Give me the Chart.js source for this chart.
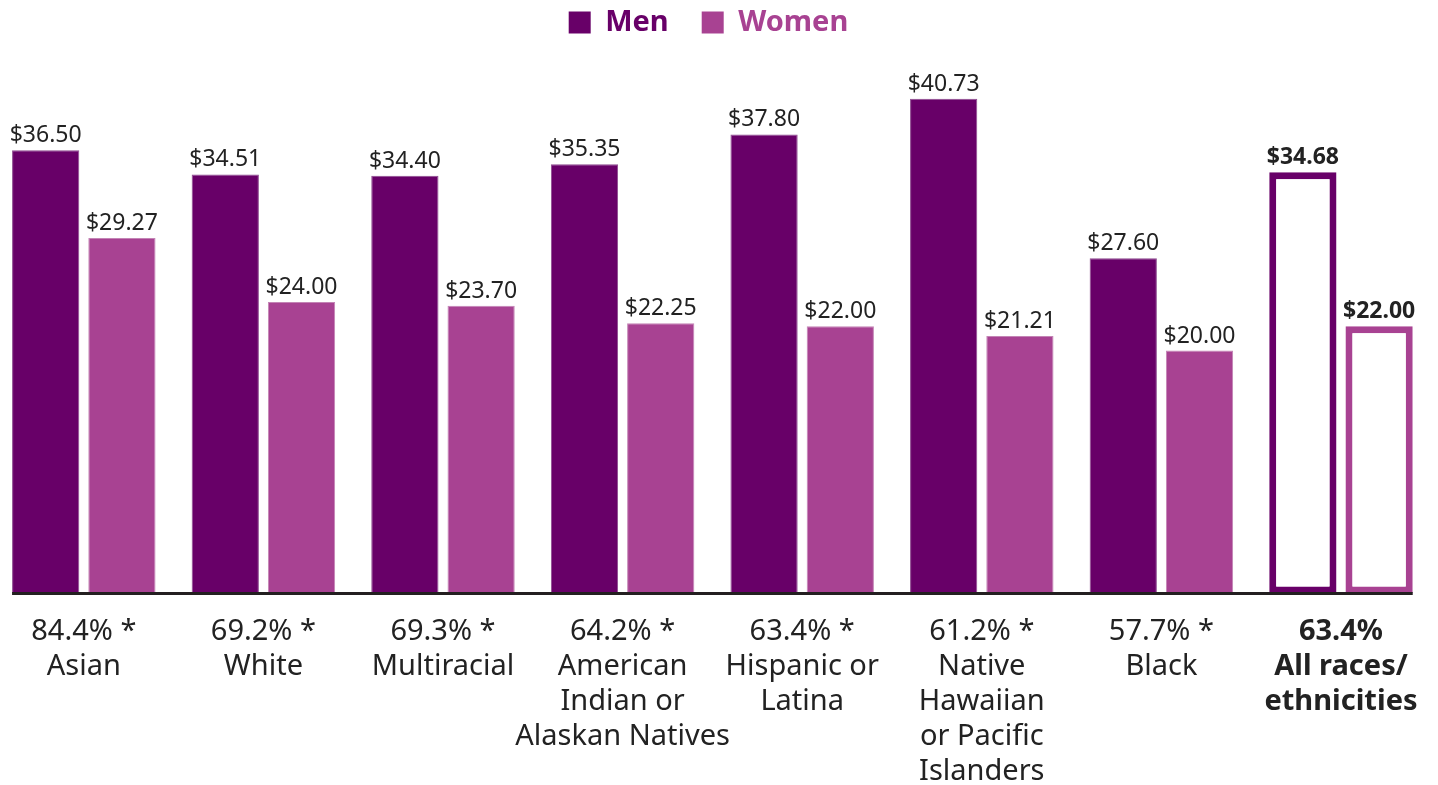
<!DOCTYPE html>
<html>
<head>
<meta charset="utf-8">
<script src="https://cdn.jsdelivr.net/npm/chart.js@4/dist/chart.umd.min.js"></script>
<style>
  body { margin: 0; background: #fff; overflow: hidden; }
  #wrap { width: 1444px; height: 785px; position: relative; left: -6px; }
</style>
</head>
<body>
<div id="wrap"><canvas id="chart"></canvas></div>
<script>
// data
const groups = ['Asian', 'White', 'Multiracial', 'American Indian or Alaskan Natives',
  'Hispanic or Latina', 'Native Hawaiian or Pacific Islanders', 'Black', 'All races/ethnicities'];
const ratioLabels = ['84.4% *', '69.2% *', '69.3% *', '64.2% *', '63.4% *', '61.2% *', '57.7% *', '63.4%'];
const nameLines = [
  ['Asian'],
  ['White'],
  ['Multiracial'],
  ['American', 'Indian or', 'Alaskan Natives'],
  ['Hispanic or', 'Latina'],
  ['Native', 'Hawaiian', 'or Pacific', 'Islanders'],
  ['Black'],
  ['All races/', 'ethnicities']
];
const menWage = [36.50, 34.51, 34.40, 35.35, 37.80, 40.73, 27.60, 34.68];
const womenWage = [29.27, 24.00, 23.70, 22.25, 22.00, 21.21, 20.00, 22.00];

const MEN = '#680068';
const WOMEN = '#a84292';
const TEXT = '#222222';
const last = groups.length - 1;

Chart.defaults.font.family = '"Noto Sans", sans-serif';

const tickLabels = groups.map((g, i) => [ratioLabels[i]].concat(nameLines[i]));

function fills(color) {
  return menWage.map((v, i) => i === last ? '#ffffff' : color);
}
function borders(color, edge) {
  return menWage.map((v, i) => i === last ? color : edge);
}
function widths() {
  return menWage.map((v, i) => i === last ? 7 : 1);
}

// dollar labels above each bar
const valueLabels = {
  id: 'valueLabels',
  afterDatasetsDraw(chart) {
    const ctx = chart.ctx;
    ctx.save();
    ctx.textAlign = 'center';
    ctx.textBaseline = 'alphabetic';
    ctx.fillStyle = TEXT;
    chart.data.datasets.forEach((ds, di) => {
      chart.getDatasetMeta(di).data.forEach((bar, i) => {
        ctx.font = (i === last ? 'bold ' : '') + '23px "Noto Sans"';
        ctx.fillText('$' + ds.data[i].toFixed(2), bar.x, bar.y - 8);
      });
    });
    ctx.restore();
  }
};

// baseline only under the bars
const baseLine = {
  id: 'baseLine',
  afterDatasetsDraw(chart) {
    const m0 = chart.getDatasetMeta(0).data;
    const m1 = chart.getDatasetMeta(1).data;
    const first = m0[0], end = m1[m1.length - 1];
    const y = chart.scales.y.getPixelForValue(0);
    const ctx = chart.ctx;
    ctx.save();
    ctx.strokeStyle = '#231f20';
    ctx.lineWidth = 3;
    ctx.beginPath();
    ctx.moveTo(first.x - first.width / 2, y);
    ctx.lineTo(end.x + end.width / 2, y);
    ctx.stroke();
    ctx.restore();
  }
};

new Chart(document.getElementById('chart'), {
  type: 'bar',
  data: {
    labels: tickLabels,
    datasets: [
      {
        label: 'Men',
        data: menWage,
        backgroundColor: fills(MEN),
        borderColor: borders(MEN, '#8d4a8f'),
        borderWidth: widths(),
        borderSkipped: (c) => c.dataIndex === last ? false : 'start',
        barPercentage: 0.882,
        categoryPercentage: 0.849
      },
      {
        label: 'Women',
        data: womenWage,
        backgroundColor: fills(WOMEN),
        borderColor: borders(WOMEN, '#c384b5'),
        borderWidth: widths(),
        borderSkipped: (c) => c.dataIndex === last ? false : 'start',
        barPercentage: 0.882,
        categoryPercentage: 0.849
      }
    ]
  },
  options: {
    responsive: true,
    maintainAspectRatio: false,
    animation: false,
    layout: { padding: { top: -25, left: 0, right: 0, bottom: -24.5 } },
    plugins: {
      tooltip: { enabled: false },
      legend: {
        position: 'top',
        align: 'center',
        labels: {
          boxWidth: 22,
          boxHeight: 22,
          padding: 33,
          font: { size: 29, weight: 'bold' },
          // trailing spaces nudge the centred legend a little to the left
          generateLabels: (chart) => chart.data.datasets.map((ds, i) => ({
            text: i === 1 ? ds.label + '  ' : ds.label,
            fillStyle: i === 0 ? MEN : WOMEN,
            strokeStyle: i === 0 ? MEN : WOMEN,
            fontColor: i === 0 ? MEN : WOMEN,
            lineWidth: 0,
            hidden: false,
            datasetIndex: i
          }))
        }
      }
    },
    scales: {
      x: {
        grid: { display: false, drawTicks: false },
        border: { display: false },
        ticks: {
          autoSkip: false,
          maxRotation: 0,
          padding: 20.5,
          color: TEXT,
          font: (c) => ({ size: 29, lineHeight: 1.207, weight: c.index === last ? 'bold' : 'normal' })
        }
      },
      y: {
        display: false,
        min: 0,
        max: 45
      }
    }
  },
  plugins: [valueLabels, baseLine]
});
</script>
</body>
</html>
